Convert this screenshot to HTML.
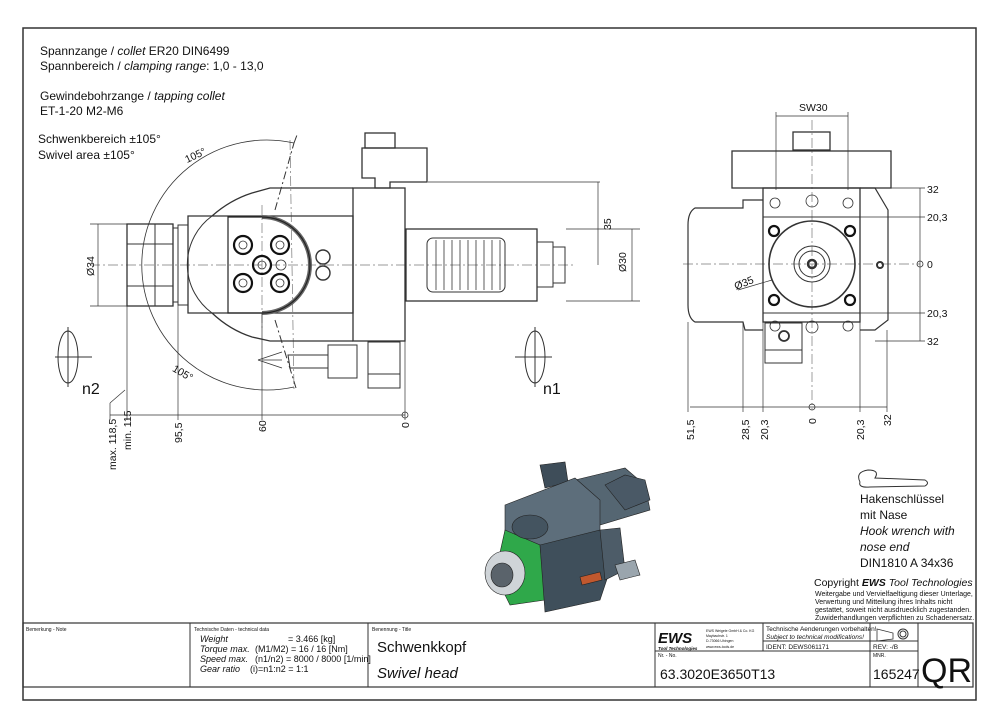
<!DOCTYPE html>
<html><head><meta charset="utf-8"><style>
html,body{margin:0;padding:0;background:#fff}
svg{display:block}
text{font-family:"Liberation Sans",sans-serif;fill:#111}
</style></head><body>
<svg width="1000" height="715" viewBox="0 0 1000 715" xmlns="http://www.w3.org/2000/svg">
<g fill="none" stroke="#333" stroke-width="1">
<rect x="23" y="28" width="953" height="672" stroke-width="1.5"/>
<rect x="23" y="623" width="950" height="64" stroke-width="1.2"/>
<line x1="190" y1="623" x2="190" y2="687"/>
<line x1="368" y1="623" x2="368" y2="687"/>
<line x1="655" y1="623" x2="655" y2="687"/>
<line x1="763" y1="623" x2="763" y2="651"/>
<line x1="870" y1="623" x2="870" y2="687"/>
<line x1="918" y1="623" x2="918" y2="687"/>
<line x1="655" y1="651" x2="918" y2="651"/>
<line x1="763" y1="641" x2="918" y2="641"/>
<path d="M877 629 L893 633 L893 639 L877 641 Z" stroke-width="0.8"/>
<circle cx="903" cy="634" r="5"/><circle cx="903" cy="634" r="3"/>

<g stroke="#777" stroke-dasharray="10,3,2,3" stroke-width="0.7">
<line x1="90" y1="265" x2="575" y2="265"/>
<line x1="683" y1="264" x2="920" y2="264"/>
<line x1="812" y1="120" x2="812" y2="410"/>
<line x1="262" y1="205" x2="262" y2="330"/>
<line x1="290" y1="140" x2="294" y2="390"/>
</g>

<path d="M294 143 A125 125 0 1 0 294 387" stroke-width="0.8"/>
<line x1="294" y1="143" x2="297" y2="135" stroke-dasharray="8,3,2,3"/>
<line x1="275" y1="210" x2="294" y2="143" stroke-dasharray="8,3,2,3"/>
<line x1="275" y1="320" x2="296" y2="388" stroke-dasharray="8,3,2,3"/>

<rect x="127" y="224" width="46" height="82" stroke-width="1.3"/>
<line x1="127" y1="244" x2="173" y2="244"/><line x1="127" y1="286" x2="173" y2="286"/>
<line x1="155" y1="224" x2="155" y2="306"/>
<rect x="173" y="228" width="5" height="74"/>
<rect x="178" y="225" width="10" height="80"/>
<path d="M188 216 L353 216 L353 313 L188 313 Z" stroke-width="1.3"/>
<path d="M212 216 Q230 200 252 193 L270 188 L353 188 M212 313 Q230 330 252 337 L270 341 L353 341" stroke-width="1.3"/>
<path d="M212 216 A60 60 0 0 0 212 313" stroke-width="1"/>
<path d="M262 217 A48 48 0 0 1 262 313" stroke-width="4" stroke="#666"/>
<path d="M262 217 A48 48 0 0 1 262 313 L228 313 L228 217 Z" stroke-width="1.2" stroke="#222"/>
<g stroke="#111" stroke-width="2.2">
<circle cx="243" cy="245" r="9"/><circle cx="280" cy="245" r="9"/>
<circle cx="243" cy="283" r="9"/><circle cx="280" cy="283" r="9"/>
<circle cx="262" cy="265" r="9"/>
</g>
<g stroke="#333" stroke-width="0.8">
<circle cx="243" cy="245" r="4"/><circle cx="280" cy="245" r="4"/>
<circle cx="243" cy="283" r="4"/><circle cx="280" cy="283" r="4"/>
<circle cx="262" cy="265" r="4"/><circle cx="281" cy="265" r="5"/>
<circle cx="323" cy="257" r="7" stroke-width="1.4"/><circle cx="323" cy="273" r="7" stroke-width="1.4"/>
</g>
<rect x="353" y="188" width="52" height="153" stroke-width="1.3"/>
<rect x="365" y="133" width="30" height="15" stroke-width="1.3"/>
<path d="M362 148 L427 148 L427 182 L390 182 L390 188 L375 188 L375 178 L362 178 Z" stroke-width="1.3"/>
<line x1="428" y1="182" x2="600" y2="182" stroke-width="0.7"/>
<rect x="406" y="229" width="131" height="72" stroke-width="1.3"/>
<rect x="427" y="238" width="78" height="54" rx="6"/>
<g stroke-width="0.8">
<line x1="436" y1="240" x2="436" y2="290"/><line x1="444" y1="240" x2="444" y2="290"/>
<line x1="452" y1="240" x2="452" y2="290"/><line x1="460" y1="240" x2="460" y2="290"/>
<line x1="468" y1="240" x2="468" y2="290"/><line x1="476" y1="240" x2="476" y2="290"/>
<line x1="484" y1="240" x2="484" y2="290"/><line x1="492" y1="240" x2="492" y2="290"/>
<line x1="500" y1="240" x2="500" y2="290"/>
</g>
<rect x="537" y="242" width="16" height="45"/>
<rect x="553" y="247" width="12" height="36"/>
<line x1="566" y1="301" x2="640" y2="301" stroke-width="0.7"/>
<line x1="566" y1="229" x2="640" y2="229" stroke-width="0.7"/>
<path d="M288 355 L328 355 L328 368 L290 368 Z"/>
<rect x="328" y="345" width="29" height="33"/>
<rect x="368" y="342" width="32" height="32"/><rect x="368" y="374" width="32" height="14"/>
<path d="M258 360 L282 352 M258 360 L282 368 M262 360 L282 360" stroke-width="0.8"/>
<ellipse cx="68" cy="357" rx="10" ry="26"/><line x1="55" y1="357" x2="92" y2="357"/><line x1="68" y1="327" x2="68" y2="387"/>
<ellipse cx="535" cy="357" rx="10" ry="26"/><line x1="515" y1="357" x2="552" y2="357"/><line x1="535" y1="327" x2="535" y2="387"/>
<g stroke-width="0.7">
<line x1="110" y1="415" x2="405" y2="415"/>
<line x1="127" y1="306" x2="127" y2="420"/>
<line x1="110" y1="403" x2="110" y2="420"/><line x1="110" y1="403" x2="125" y2="390"/>
<line x1="178" y1="305" x2="178" y2="420"/>
<line x1="262" y1="313" x2="262" y2="420"/>
<line x1="405" y1="341" x2="405" y2="420"/>
<line x1="90" y1="224" x2="127" y2="224"/><line x1="90" y1="306" x2="127" y2="306"/>
<line x1="98" y1="224" x2="98" y2="306"/>
<line x1="598" y1="182" x2="598" y2="265"/>
<line x1="632" y1="229" x2="632" y2="301"/>
</g>
<circle cx="405" cy="415" r="3" stroke-width="0.8"/>

<rect x="732" y="151" width="159" height="37" stroke-width="1.3"/>
<rect x="793" y="132" width="37" height="18" stroke-width="1.3"/>
<rect x="763" y="188" width="97" height="134" stroke-width="1.3"/>
<line x1="763" y1="217" x2="860" y2="217"/><line x1="763" y1="313" x2="860" y2="313"/>
<path d="M763 200 L743 200 L743 208 L695 208 Q688 212 688 225 L688 305 Q688 318 695 322 L743 322 L745 330 L763 330" stroke-width="1.2"/>
<path d="M860 188 L875 188 L888 210 L888 320 L875 330 L860 330" stroke-width="1.2"/>
<circle cx="812" cy="264" r="43" stroke-width="1.6"/>
<circle cx="812" cy="264" r="18"/><circle cx="812" cy="264" r="13"/>
<circle cx="812" cy="264" r="4" stroke-width="2.5"/>
<g stroke-width="2.2" stroke="#111">
<circle cx="774" cy="231" r="5"/><circle cx="850" cy="231" r="5"/>
<circle cx="774" cy="300" r="5"/><circle cx="850" cy="300" r="5"/>
</g>
<g stroke-width="0.8">
<circle cx="775" cy="203" r="5"/><circle cx="812" cy="201" r="6"/><circle cx="848" cy="203" r="5"/>
<circle cx="775" cy="326" r="5"/><circle cx="812" cy="327" r="6"/><circle cx="848" cy="326" r="5"/>
<circle cx="880" cy="265" r="3" stroke-width="2"/>
</g>
<rect x="765" y="323" width="37" height="27"/>
<rect x="765" y="350" width="37" height="13"/>
<circle cx="784" cy="336" r="5" stroke-width="1.8"/>
<g stroke-width="0.7">
<line x1="776" y1="112" x2="776" y2="190"/><line x1="848" y1="112" x2="848" y2="190"/>
<line x1="776" y1="116" x2="848" y2="116"/>
<line x1="690" y1="407" x2="887" y2="407"/>
<line x1="688" y1="322" x2="688" y2="412"/><line x1="743" y1="322" x2="743" y2="412"/>
<line x1="763" y1="322" x2="763" y2="412"/><line x1="860" y1="322" x2="860" y2="412"/>
<line x1="887" y1="330" x2="887" y2="412"/>
<line x1="920" y1="188" x2="920" y2="341"/>
<line x1="891" y1="188" x2="925" y2="188"/><line x1="860" y1="217" x2="925" y2="217"/>
<line x1="860" y1="313" x2="925" y2="313"/><line x1="875" y1="341" x2="925" y2="341"/>
<line x1="738" y1="290" x2="772" y2="280"/>
</g>
<circle cx="812" cy="407" r="3" stroke-width="0.8"/>
<circle cx="920" cy="264" r="3" stroke-width="0.8"/>
<path d="M860 482 Q855 472 868 470 Q880 470 875 478 L925 480 Q930 483 925 486 L870 487 Q858 488 860 482" stroke-width="1"/>
</g>

<g stroke="#222" stroke-width="0.6">
<path d="M540 465 L565 462 L568 482 L545 488 Z" fill="#3e4d59"/>
<path d="M575 480 L625 468 L645 485 L650 510 L600 525 L580 505 Z" fill="#556672"/>
<path d="M605 485 L625 475 L645 480 L650 500 L625 510 Z" fill="#4a5966"/>
<path d="M505 505 L575 478 L600 500 L600 540 L545 560 L505 545 Z" fill="#5d6e7b"/>
<path d="M505 530 L540 545 L545 600 L510 605 L495 575 Z" fill="#2fa84a"/>
<path d="M540 545 L600 530 L610 570 L600 600 L545 612 Z" fill="#3f4f5b"/>
<path d="M600 530 L620 528 L625 570 L605 580 Z" fill="#4d5c68"/>
<ellipse cx="505" cy="573" rx="20" ry="22" fill="#cfd4d8"/>
<ellipse cx="502" cy="575" rx="11" ry="12" fill="#5a636b"/>
<ellipse cx="530" cy="527" rx="18" ry="12" fill="#445460"/>
<path d="M615 565 L635 560 L640 575 L620 580 Z" fill="#9aa5ad"/>
<path d="M580 577 L600 572 L602 580 L582 585 Z" fill="#c0582e"/>
</g>

<g font-size="12">
<text x="40" y="55">Spannzange / <tspan font-style="italic">collet</tspan>   ER20   DIN6499</text>
<text x="40" y="70">Spannbereich / <tspan font-style="italic">clamping range</tspan>: 1,0 - 13,0</text>
<text x="40" y="100">Gewindebohrzange / <tspan font-style="italic">tapping collet</tspan></text>
<text x="40" y="115">ET-1-20  M2-M6</text>
<text x="38" y="143">Schwenkbereich ±105°</text>
<text x="38" y="159">Swivel area ±105°</text>
</g>
<g font-size="10.5">
<text x="185" y="160" transform="rotate(-25 193 157)">105°</text>
<text x="172" y="375" transform="rotate(30 180 372)">105°</text>
<text x="611" y="230" transform="rotate(-90 611 230)">35</text>
<text x="626" y="272" transform="rotate(-90 626 272)">Ø30</text>
<text x="94" y="276" transform="rotate(-90 94 276)">Ø34</text>
<text x="116" y="470" transform="rotate(-90 116 470)">max. 118,5</text>
<text x="131" y="450" transform="rotate(-90 131 450)">min. 115</text>
<text x="182" y="443" transform="rotate(-90 182 443)">95,5</text>
<text x="266" y="432" transform="rotate(-90 266 432)">60</text>
<text x="409" y="428" transform="rotate(-90 409 428)">0</text>
<text x="799" y="111">SW30</text>
<text x="736" y="290" transform="rotate(-22 736 290)">Ø35</text>
<text x="927" y="193">32</text><text x="927" y="221">20,3</text><text x="927" y="268">0</text>
<text x="927" y="317">20,3</text><text x="927" y="345">32</text>
<text x="694" y="440" transform="rotate(-90 694 440)">51,5</text>
<text x="749" y="440" transform="rotate(-90 749 440)">28,5</text>
<text x="768" y="440" transform="rotate(-90 768 440)">20,3</text>
<text x="816" y="424" transform="rotate(-90 816 424)">0</text>
<text x="864" y="440" transform="rotate(-90 864 440)">20,3</text>
<text x="891" y="426" transform="rotate(-90 891 426)">32</text>
</g>
<text x="82" y="394" font-size="16">n2</text>
<text x="543" y="394" font-size="16">n1</text>
<g font-size="12">
<text x="860" y="503">Hakenschlüssel</text>
<text x="860" y="519">mit Nase</text>
<text x="860" y="535" font-style="italic">Hook wrench with</text>
<text x="860" y="551" font-style="italic">nose end</text>
<text x="860" y="567">DIN1810  A  34x36</text>
</g>
<text x="814" y="586" font-size="10.5">Copyright <tspan font-weight="bold" font-style="italic">EWS</tspan> <tspan font-style="italic">Tool Technologies</tspan></text>
<g font-size="7">
<text x="815" y="596">Weitergabe und Vervielfaeltigung dieser Unterlage,</text>
<text x="815" y="604">Verwertung und Mitteilung ihres Inhalts nicht</text>
<text x="815" y="612">gestattet, soweit nicht ausdruecklich zugestanden.</text>
<text x="815" y="620">Zuwiderhandlungen verpflichten zu Schadenersatz.</text>
</g>
<g font-size="5"><text x="26" y="631">Bemerkung - Note</text><text x="194" y="631">Technische Daten - technical data</text>
<text x="372" y="631">Benennung - Title</text><text x="658" y="657">Nr. - No.</text><text x="873" y="657">MNR.</text></g>
<g font-size="9" font-style="italic">
<text x="200" y="642">Weight</text><text x="200" y="652">Torque max.</text>
<text x="200" y="662">Speed max.</text><text x="200" y="672">Gear ratio</text>
</g>
<g font-size="9">
<text x="288" y="642">=   3.466 [kg]</text>
<text x="255" y="652">(M1/M2)  =   16  /  16 [Nm]</text>
<text x="255" y="662">(n1/n2)  =  8000 / 8000 [1/min]</text>
<text x="250" y="672">(i)=n1:n2  =   1:1</text>
</g>
<text x="377" y="652" font-size="15">Schwenkkopf</text>
<text x="377" y="678" font-size="15" font-style="italic">Swivel head</text>
<text x="658" y="643" font-size="15" font-weight="bold" font-style="italic">EWS</text>
<text x="658" y="650" font-size="4.5" font-style="italic" font-weight="bold">Tool Technologies</text>
<g font-size="3.5"><text x="706" y="632">EWS Weigele GmbH &amp; Co. KG</text><text x="706" y="637">Maybachstr. 1</text><text x="706" y="642">D-73066 Uhingen</text><text x="706" y="648">www.ews-tools.de</text></g>
<text x="766" y="631" font-size="6.5">Technische Aenderungen vorbehalten!</text>
<text x="766" y="639" font-size="6.5" font-style="italic">Subject to technical modifications!</text>
<text x="766" y="649" font-size="6.5">IDENT:  DEWS061171</text>
<text x="873" y="649" font-size="6.5">REV:  -/B</text>
<text x="660" y="679" font-size="14">63.3020E3650T13</text>
<text x="873" y="679" font-size="14">165247</text>
<text x="921" y="682" font-size="34">QR</text>
</svg>
</body></html>
